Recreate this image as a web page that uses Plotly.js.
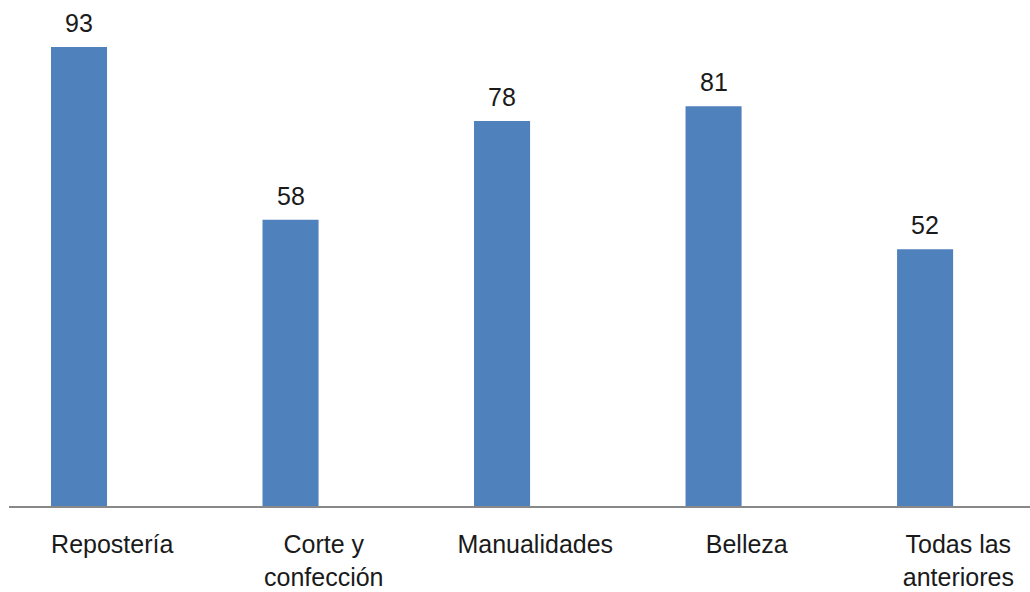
<!DOCTYPE html>
<html>
<head>
<meta charset="utf-8">
<script src="https://cdn.plot.ly/plotly-3.0.1.min.js"></script>
<style>html,body{margin:0;padding:0;background:#fff;}#chart{width:1030px;height:592px;}</style>
</head>
<body>
<div id="chart"></div>
<script>
var categories = ["Repostería", "Corte y<br>confección", "Manualidades", "Belleza", "Todas las<br>anteriores"];
var values = [93, 58, 78, 81, 52];
var labels = ["93", "58", "78", "81", "52"];

var FONT = "Liberation Sans, Arial, sans-serif";
var xRange = [-0.331, 4.496];
var labelShift = 0.157; // tick labels sit right of bar centres in the reference

var bars = {
  type: "bar",
  x: categories,
  y: values,
  marker: {color: "#4F81BD"},
  hoverinfo: "none"
};

// invisible trace carrying the categories for the label axis
var labelCarrier = {
  type: "scatter",
  mode: "markers",
  x: categories,
  y: values,
  xaxis: "x2",
  marker: {opacity: 0},
  hoverinfo: "none"
};

var annotations = categories.map(function (c, i) {
  return {
    x: c, y: values[i], text: labels[i], xref: "x", yref: "y",
    showarrow: false, yanchor: "bottom", yshift: 8,
    font: {family: FONT, size: 25, color: "#1a1a1a"}
  };
});

var layout = {
  width: 1030, height: 592,
  margin: {l: 9, r: 0, t: 0, b: 86},
  paper_bgcolor: "#fff", plot_bgcolor: "#fff",
  bargap: 0.735,
  showlegend: false,
  font: {family: FONT, size: 25, color: "#1a1a1a"},
  xaxis: {
    type: "category",
    range: xRange,
    showline: true, linecolor: "#888888", linewidth: 2,
    ticks: "", showgrid: false, zeroline: false,
    showticklabels: false
  },
  xaxis2: {
    type: "category",
    overlaying: "x",
    anchor: "y",
    side: "bottom",
    range: [xRange[0] - labelShift, xRange[1] - labelShift],
    showline: false, ticks: "", showgrid: false, zeroline: false,
    tickfont: {family: FONT, size: 25, color: "#1a1a1a"},
    ticklabelstandoff: 21
  },
  yaxis: {
    range: [0, 102.5],
    visible: false, showgrid: false, zeroline: false
  },
  annotations: annotations
};

Plotly.newPlot("chart", [bars, labelCarrier], layout, {staticPlot: true, displayModeBar: false});
</script>
</body>
</html>
